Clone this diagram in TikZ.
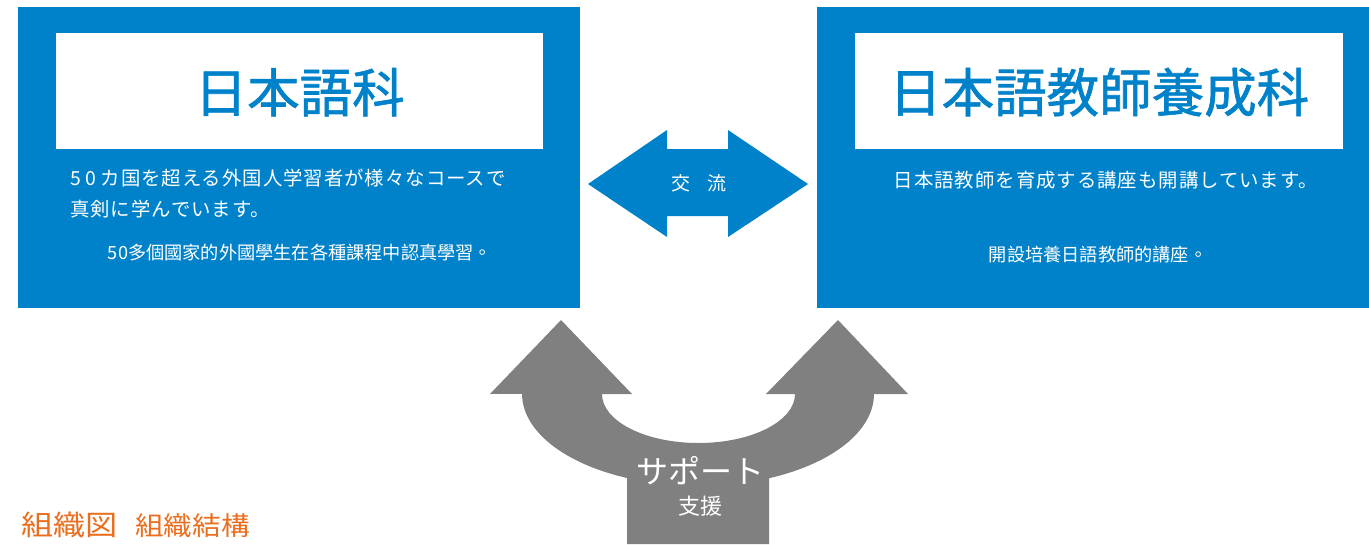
\documentclass[tikz,border=0pt]{standalone}
\usepackage{fontspec}
\newfontfamily\jp{Noto Sans CJK JP}
\newfontfamily\jpsp[LetterSpace=5]{Noto Sans CJK JP}
\newfontfamily\jpbold[FakeBold=1.2]{Noto Sans CJK JP}
\newfontfamily\tc{Noto Sans CJK TC}
\definecolor{mblue}{RGB}{0,130,202}
\definecolor{mgray}{RGB}{128,128,128}
\definecolor{morange}{RGB}{235,110,30}
\newcommand{\dg}[1]{#1\hspace{4.5pt}}
\tikzset{
  bluebox/.style={fill=mblue, draw=none, inner sep=0pt, anchor=north west},
  whitebox/.style={fill=white, draw=none, inner sep=0pt, anchor=north west},
  titletext/.style={text=mblue, inner sep=0pt, font=\jpbold\fontsize{52.5}{60}\selectfont},
  bodytext/.style={text=white, inner sep=0pt, font=\jpsp\fontsize{19.4}{24}\selectfont},
  subtext/.style={text=white, inner sep=0pt, font=\tc\fontsize{18.2}{22}\selectfont},
}
\begin{document}
\begin{tikzpicture}[x=1pt,y=1pt]
\useasboundingbox (0,0) rectangle (1369,-544);
% boxes
\node[bluebox, minimum width=562pt, minimum height=301pt] (L) at (18,-7) {};
\node[whitebox, minimum width=487pt, minimum height=116pt] (LT) at (56,-33) {};
\node[bluebox, minimum width=552pt, minimum height=301pt] (R) at (817,-7) {};
\node[whitebox, minimum width=488pt, minimum height=116pt] (RT) at (855,-33) {};
% titles
\node[titletext] (LTt) at ([yshift=-1pt]LT.center) {日本語科};
\node[titletext] (RTt) at ([yshift=-1pt]RT.center) {日本語教師養成科};
% body texts
\node[bodytext, anchor=west] (L1) at (70,-178) {\dg{5}\dg{0}カ国を超える外国人学習者が様々なコースで};
\node[bodytext, anchor=west] (L2) at (70,-209) {真剣に学んでいます。};
\node[subtext] (L3) at (300,-253) {50多個國家的外國學生在各種課程中認真學習。};
\node[bodytext] (R1) at (1106,-180) {日本語教師を育成する講座も開講しています。};
\node[subtext] (R2) at (1098,-255) {開設培養日語教師的講座。};
% double arrow
\fill[mblue] (588,-184) -- (667,-130) -- (667,-149) -- (728,-149) -- (728,-130)
  -- (808,-184) -- (728,-237) -- (728,-216) -- (667,-216) -- (667,-237) -- cycle;
\node[text=white, inner sep=0pt, font=\jp\fontsize{19}{22}\selectfont] (X) at (699,-183) {交\hspace{0.85em}流};
% gray support arrow
\fill[mgray] (561,-320) -- (632,-394) -- (602,-394)
  arc[start angle=180, end angle=360, x radius=96.5, y radius=49]
  -- (766,-394) -- (838,-320) -- (908,-394) -- (874,-394)
  arc[start angle=360, end angle=293.7, x radius=175.5, y radius=92]
  -- (769,-544) -- (627,-544) -- (627,-478)
  arc[start angle=246.3, end angle=180, x radius=175.5, y radius=92]
  -- (490,-394) -- cycle;
\node[text=white, inner sep=0pt, font=\jp\fontsize{32}{36}\selectfont] (S1) at (700,-471) {サポート};
\node[text=white, inner sep=0pt, font=\jp\fontsize{22}{26}\selectfont] (S2) at (700,-506) {支援};
% caption
\node[text=morange, inner sep=0pt, anchor=west, xscale=1.15, font=\jp\fontsize{28}{30}\selectfont] (C1) at (21,-525) {組織図};
\node[text=morange, inner sep=0pt, anchor=west, xscale=1.1, font=\jp\fontsize{26}{30}\selectfont] (C2) at (135,-526) {組織結構};
\end{tikzpicture}
\end{document}
